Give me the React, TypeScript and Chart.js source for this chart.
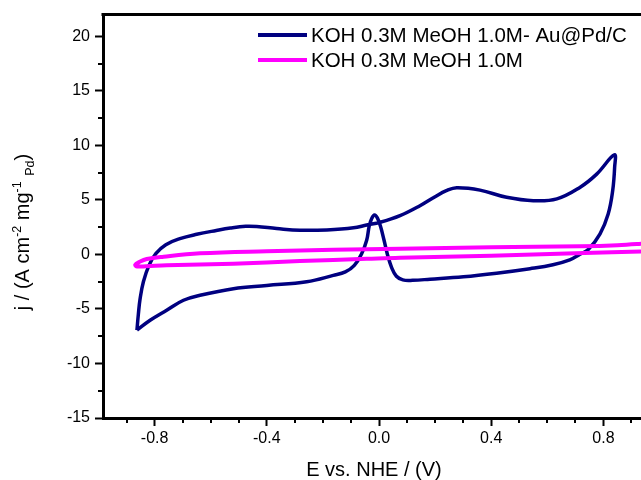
import { useEffect, useRef } from "react";
import { Chart, registerables } from "chart.js";

Chart.register(...registerables);

const FONT = '"Liberation Sans", Arial, Helvetica, sans-serif';

const seriesLabels = ["KOH 0.3M MeOH 1.0M- Au@Pd/C", "KOH 0.3M MeOH 1.0M"];
const seriesColors = ["#000080", "#ff00ff"];

// Au@Pd/C cyclic voltammogram (E in V, j in A cm-2 mg-1 Pd)
const auPdE = [
  -0.863, -0.858, -0.852, -0.84, -0.82, -0.795, -0.76, -0.71, -0.65, -0.58, -0.53, -0.475, -0.436,
  -0.365, -0.282, -0.186, -0.091, -0.044, 0.004, 0.075, 0.146, 0.2, 0.24, 0.277, 0.36, 0.455,
  0.55, 0.634, 0.716, 0.776, 0.839,
  0.84, 0.833, 0.817, 0.788, 0.746, 0.715, 0.68, 0.62, 0.538, 0.419, 0.301, 0.182, 0.12,
  0.085, 0.062, 0.045, 0.03, 0.018, 0.005, -0.006, -0.016, -0.026, -0.035, -0.044, -0.062,
  -0.088, -0.12, -0.163, -0.258, -0.4, -0.519, -0.638, -0.697, -0.757, -0.816, -0.863,
];
const auPdJ = [
  -6.94, -5.5, -4.1, -2.5, -1.0, 0.1, 0.9, 1.45, 1.85, 2.2, 2.42, 2.58, 2.56,
  2.38, 2.22, 2.25, 2.44, 2.7, 2.95, 3.56, 4.47, 5.3, 5.85, 6.12, 5.9, 5.24,
  4.93, 5.1, 6.15, 7.37, 9.13,
  8.0, 5.84, 3.71, 1.89, 0.45, 0.0, -0.5, -0.95, -1.31, -1.72, -2.05, -2.27, -2.37,
  -2.33, -2.0, -1.2, 0.0, 1.3, 2.6, 3.35, 3.62, 3.3, 2.6, 1.3, 0.06,
  -1.0, -1.6, -1.92, -2.5, -2.85, -3.14, -3.74, -4.2, -5.11, -6.03, -6.94,
];

// Blank (no catalyst) cyclic voltammogram
const blankE = [
  0.96, 0.7, 0.4, 0.075, -0.044, -0.282, -0.519, -0.757, -0.83, -0.862, -0.869,
  -0.855, -0.828, -0.768, -0.638, -0.4, -0.163, 0.075, 0.4, 0.716, 0.85, 0.96,
];
const blankJ = [
  0.3, 0.1, -0.12, -0.3, -0.4, -0.61, -0.85, -1.0, -1.08, -1.1, -0.95,
  -0.7, -0.42, -0.2, 0.1, 0.3, 0.43, 0.52, 0.65, 0.75, 0.85, 1.02,
];

const xMajorTicks = [-0.8, -0.4, 0, 0.4, 0.8];
const xMinorTicks = [-0.9, -0.7, -0.6, -0.5, -0.3, -0.2, -0.1, 0.1, 0.2, 0.3, 0.5, 0.6, 0.7, 0.9];
const yMajorTicks = [-15, -10, -5, 0, 5, 10, 15, 20];
const yMinorTicks = [-12.5, -7.5, -2.5, 2.5, 7.5, 12.5, 17.5];
const xRange = [-0.984, 0.934];
const yRange = [-15, 22];

const xTitle = "E vs. NHE / (V)";
const yTitleParts: [string, string][] = [
  ["j / (A cm", "n"],
  ["-2", "sup"],
  [" mg", "n"],
  ["-1", "sup"],
  [" ", "n"],
  ["Pd", "sub"],
  [")", "n"],
];

const decorPlugin = {
  id: "decor",
  afterDraw(chart: any) {
    const ctx = chart.ctx as CanvasRenderingContext2D;
    const area = chart.chartArea;
    const xs = chart.scales.x;
    const ys = chart.scales.y;
    ctx.save();
    // top frame line
    ctx.strokeStyle = "#000";
    ctx.lineWidth = 3;
    ctx.beginPath();
    ctx.moveTo(area.left - 1.5, area.top);
    ctx.lineTo(chart.width, area.top);
    ctx.stroke();
    // minor ticks
    ctx.lineWidth = 2;
    ctx.beginPath();
    for (const v of xMinorTicks) {
      const px = Math.round(xs.getPixelForValue(v));
      if (px < area.left || px > area.right) continue;
      ctx.moveTo(px, area.bottom);
      ctx.lineTo(px, area.bottom + 5);
    }
    for (const v of yMinorTicks) {
      const py = Math.round(ys.getPixelForValue(v));
      ctx.moveTo(area.left, py);
      ctx.lineTo(area.left - 5, py);
    }
    ctx.stroke();

    // x title
    ctx.fillStyle = "#000";
    ctx.font = `20px ${FONT}`;
    ctx.textAlign = "center";
    ctx.textBaseline = "alphabetic";
    ctx.fillText(xTitle, (area.left + area.right) / 2 + 2, 476);

    // y title (rotated, with super/subscripts)
    const F = 20;
    const S = 12.5;
    const fontFor = (k: string) => `${k === "n" ? F : S}px ${FONT}`;
    let total = 0;
    for (const [t, k] of yTitleParts) {
      ctx.font = fontFor(k);
      total += ctx.measureText(t).width;
    }
    ctx.translate(29, 232);
    ctx.rotate(-Math.PI / 2);
    ctx.textAlign = "left";
    let cx = -total / 2;
    for (const [t, k] of yTitleParts) {
      ctx.font = fontFor(k);
      const dy = k === "sup" ? -8 : k === "sub" ? 5 : 0;
      ctx.fillText(t, cx, dy);
      cx += ctx.measureText(t).width;
    }
    ctx.setTransform(1, 0, 0, 1, 0, 0);

    // legend
    const rows = [35, 60];
    ctx.font = `20.5px ${FONT}`;
    ctx.textBaseline = "middle";
    ctx.textAlign = "left";
    seriesLabels.forEach((label, i) => {
      ctx.strokeStyle = seriesColors[i];
      ctx.lineWidth = 4;
      ctx.beginPath();
      ctx.moveTo(258, rows[i]);
      ctx.lineTo(307, rows[i]);
      ctx.stroke();
      ctx.fillStyle = "#000";
      ctx.fillText(label, 311, rows[i] + 1);
    });
    ctx.restore();
  },
};

export default function App() {
  const ref = useRef<HTMLCanvasElement | null>(null);
  useEffect(() => {
    if (!ref.current) return;
    const chart = new Chart(ref.current, {
      type: "scatter",
      data: {
        datasets: [
          {
            label: seriesLabels[0],
            data: auPdE.map((x, i) => ({ x, y: auPdJ[i] })),
            showLine: true,
            borderColor: seriesColors[0],
            backgroundColor: seriesColors[0],
            borderWidth: 3.5,
            pointRadius: 0,
            tension: 0.4,
            borderJoinStyle: "round",
            order: 1,
          },
          {
            label: seriesLabels[1],
            data: blankE.map((x, i) => ({ x, y: blankJ[i] })),
            showLine: true,
            borderColor: seriesColors[1],
            backgroundColor: seriesColors[1],
            borderWidth: 4,
            pointRadius: 0,
            tension: 0.4,
            borderJoinStyle: "round",
            order: 0,
          },
        ],
      },
      options: {
        responsive: false,
        animation: false,
        devicePixelRatio: 1,
        layout: { padding: { top: 13.5, right: 0, left: 0, bottom: 0 } },
        plugins: { legend: { display: false }, tooltip: { enabled: false } },
        scales: {
          x: {
            type: "linear",
            min: xRange[0],
            max: xRange[1],
            afterBuildTicks: (s: any) => {
              s.ticks = xMajorTicks.map((v) => ({ value: v }));
            },
            afterFit: (s: any) => {
              s.height = 62;
            },
            grid: {
              drawOnChartArea: false,
              drawTicks: true,
              tickLength: 8,
              tickWidth: 2,
              tickColor: "#000",
            },
            border: { display: true, color: "#000", width: 3 },
            ticks: {
              color: "#000",
              font: { family: FONT, size: 16 },
              padding: 3,
              maxRotation: 0,
              callback: (v: any) => Number(v).toFixed(1),
            },
          },
          y: {
            type: "linear",
            min: yRange[0],
            max: yRange[1],
            afterBuildTicks: (s: any) => {
              s.ticks = yMajorTicks.map((v) => ({ value: v }));
            },
            afterFit: (s: any) => {
              s.width = 103;
            },
            grid: {
              drawOnChartArea: false,
              drawTicks: true,
              tickLength: 8,
              tickWidth: 2,
              tickColor: "#000",
            },
            border: { display: true, color: "#000", width: 3 },
            ticks: {
              color: "#000",
              font: { family: FONT, size: 16 },
              padding: 5,
              callback: (v: any) => String(v),
            },
          },
        },
      },
      plugins: [decorPlugin],
    });
    return () => chart.destroy();
  }, []);
  return (
    <div style={{ position: "absolute", left: 0, top: 0, width: 641, height: 480, background: "#fff" }}>
      <canvas ref={ref} width={641} height={480} style={{ display: "block" }} />
    </div>
  );
}
